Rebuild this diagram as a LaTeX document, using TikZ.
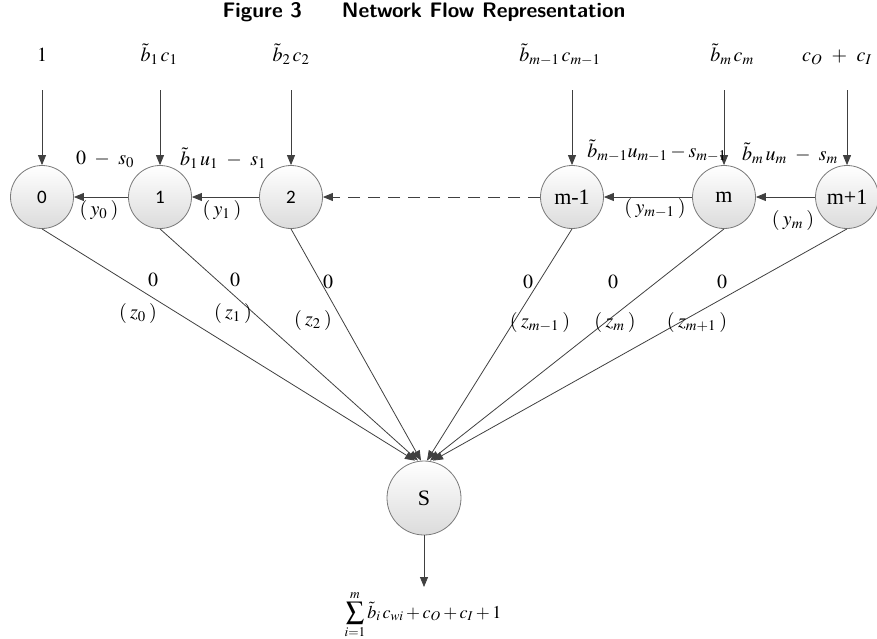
\documentclass[tikz,border=0pt]{standalone}
\usepackage{mathptmx}
\usepackage[no-math]{fontspec}
\newfontfamily\calfont{Carlito}
\newfontfamily\timesfont{Liberation Serif}
\usetikzlibrary{arrows.meta,shadings}

\definecolor{edgegray}{HTML}{404040}
\definecolor{rimgray}{HTML}{7A7A7A}

\tikzset{
  flownode/.style={circle, draw=rimgray, line width=0.8pt, minimum size=63pt,
    inner sep=0pt, top color=white, bottom color=black!14, font=\timesfont\fontsize{22}{24}\selectfont},
  numnode/.style={flownode, font=\calfont\fontsize{19}{22}\selectfont},
  sinknode/.style={flownode, minimum size=74pt},
  flow/.style={draw=edgegray, line width=0.8pt, -{Triangle[length=10pt,width=8pt]}},
  dashflow/.style={flow, dash pattern=on 12pt off 8pt},
  lab/.style={inner sep=0pt, font=\fontsize{20}{22}\selectfont},
  title/.style={inner sep=0pt, font=\sffamily\bfseries\fontsize{21}{24}\selectfont}
}
% wider gaps, as in the typeset equations of the figure
\newcommand{\pl}{\mskip 6mu+\mskip 6mu}
\newcommand{\mi}{\mskip 5mu-\mskip 5mu}
\newcommand{\pr}[1]{(\mskip 3mu#1\mskip 3mu)}

\begin{document}
\begin{tikzpicture}[x=1pt,y=-1pt]
  \useasboundingbox (0,0) rectangle (877,638);

  % title
  \node[title] (ttl) at (424,12) {Figure 3\hspace{1.9em}Network Flow Representation};

  % network nodes
  \node[numnode] (n0)  at (42,197)  {0};
  \node[numnode] (n1)  at (160,197) {1};
  \node[numnode] (n2)  at (291,197) {2};
  \node[flownode] (nm1) at (572,197) {m-1};
  \node[flownode] (nm)  at (724,197) {m};
  \node[flownode] (nm2) at (847,197) {m+1};
  \node[sinknode] (S)   at (424,498) {S};

  % supply inflows
  \coordinate (t0)  at (42,90);
  \coordinate (t1)  at (160,90);
  \coordinate (t2)  at (291,90);
  \coordinate (tm1) at (572,90);
  \coordinate (tm)  at (724,90);
  \coordinate (tm2) at (847,90);
  \foreach \n in {0,1,2,m1,m,m2} \draw[flow] (t\n) -- (n\n.north);

  \node[lab, anchor=base] (s0)  at (42,61)  {$1$};
  \node[lab, anchor=base] (s1)  at (159,61) {$\tilde{b}_1\,c_1$};
  \node[lab, anchor=base] (s2)  at (291,61) {$\tilde{b}_2\,c_2$};
  \node[lab, anchor=base] (sm1) at (560,61) {$\tilde{b}_{m-1}\,c_{m-1}$};
  \node[lab, anchor=base] (sm)  at (732,61) {$\tilde{b}_m\,c_m$};
  \node[lab, anchor=base] (sm2) at (837,61) {$c_O\pl c_I$};

  % horizontal arcs
  \draw[flow] (n1) -- (n0);
  \draw[flow] (n2) -- (n1);
  \draw[dashflow] (nm1) -- (n2);
  \draw[flow] (nm) -- (nm1);
  \draw[flow] (nm2) -- (nm);

  \node[lab, anchor=base] (c0)  at (105,164) {$0\mi s_0$};
  \node[lab, anchor=base] (c1)  at (223,165) {$\tilde{b}_1\,u_1\mi s_1$};
  \node[lab, anchor=base] (cm1) at (657,157) {$\tilde{b}_{m-1}u_{m-1}-s_{m-1}$};
  \node[lab, anchor=base] (cm)  at (790,160) {$\tilde{b}_m\,u_m\mi s_m$};

  \node[lab, anchor=base] (y0)  at (99,215)  {$\pr{y_0}$};
  \node[lab, anchor=base] (y1)  at (222,215) {$\pr{y_1}$};
  \node[lab, anchor=base] (ym1) at (655,213) {$\pr{y_{m-1}}$};
  \node[lab, anchor=base] (ym)  at (793,225) {$\pr{y_m}$};

  % arcs into the sink
  \draw[flow] (n0.south)  -- ([xshift=-9pt]S.north);
  \draw[flow] (n1.south)  -- ([xshift=-6pt]S.north);
  \draw[flow] (n2.south)  -- ([xshift=-3pt]S.north);
  \draw[flow] (nm1.south) -- ([xshift=3pt]S.north);
  \draw[flow] (nm.south)  -- ([xshift=6pt]S.north);
  \draw[flow] (nm2.south) -- ([xshift=9pt]S.north);

  \node[lab] (k0)  at (153,280) {$0$};
  \node[lab] (k1)  at (235,280) {$0$};
  \node[lab] (k2)  at (328,282) {$0$};
  \node[lab] (km1) at (528,282) {$0$};
  \node[lab] (km)  at (613,282) {$0$};
  \node[lab] (km2) at (722,282) {$0$};

  \node[lab] (z0)  at (138,313) {$\pr{z_0}$};
  \node[lab] (z1)  at (233,313) {$\pr{z_1}$};
  \node[lab] (z2)  at (313,320) {$\pr{z_2}$};
  \node[lab] (zm1) at (540,322) {$\pr{z_{m-1}}$};
  \node[lab] (zm)  at (615,322) {$\pr{z_m}$};
  \node[lab] (zm2) at (697,322) {$\pr{z_{m+1}}$};

  % outflow of the sink
  \coordinate (out) at (424,587);
  \draw[flow] (S.south) -- (out);
  \node[lab, anchor=north, font=\fontsize{18}{20}\selectfont] (tot) at (423,591)
    {$\displaystyle\sum_{i=1}^{m}\tilde{b}_i\,c_{wi}+c_O+c_I+1$};
\end{tikzpicture}
\end{document}
